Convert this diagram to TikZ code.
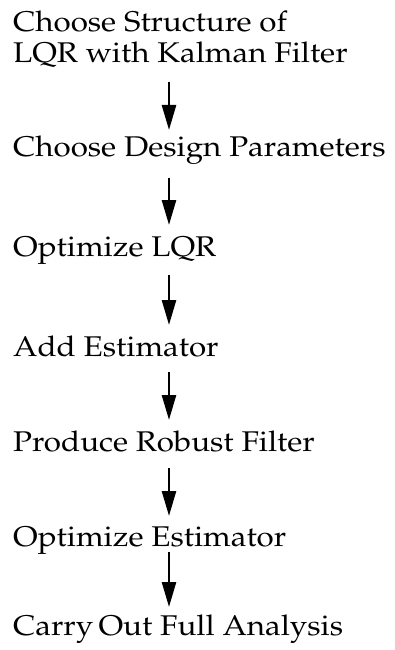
\documentclass[tikz,border=0pt]{standalone}
\usepackage[T1]{fontenc}
\usepackage{mathpazo}
\usepackage{graphicx}
\usetikzlibrary{arrows.meta}
% slightly widened Palatino lines
\newcommand{\wideline}[1]{\scalebox{1.10}[1]{#1}}
\begin{document}
\begin{tikzpicture}[x=1pt,y=-1pt,
  stepbox/.style={anchor=base west,inner sep=0pt,align=left,
    font=\fontsize{28.5}{31}\selectfont},
  flow/.style={line width=2.6pt,-{Triangle[length=25pt,width=14pt]}}]
\useasboundingbox (0,0) rectangle (394,650);
% steps (base anchor of the two-line box is its last line)
\node[stepbox] (s1) at (13,63) {\wideline{Choose Structure of}\\\wideline{LQR with Kalman Filter}};
\node[stepbox] (s2) at (13,156) {\wideline{Choose Design Parameters}};
\node[stepbox] (s3) at (13,256) {\wideline{Optimize LQR}};
\node[stepbox] (s4) at (13,356) {\wideline{Add Estimator}};
\node[stepbox] (s5) at (13,451) {\wideline{Produce Robust Filter}};
\node[stepbox] (s6) at (13,546) {\wideline{Optimize Estimator}};
\node[stepbox] (s7) at (13,635) {\wideline{Carry\,Out Full Analysis}};
% arrows between consecutive steps
\coordinate (ax) at (169,0);
\draw[flow] ([yshift=-19pt]s1.base -| ax) -- ([yshift=26pt]s2.base -| ax);
\draw[flow] ([yshift=-22pt]s2.base -| ax) -- ([yshift=31pt]s3.base -| ax);
\draw[flow] ([yshift=-19pt]s3.base -| ax) -- ([yshift=31pt]s4.base -| ax);
\draw[flow] ([yshift=-16pt]s4.base -| ax) -- ([yshift=31pt]s5.base -| ax);
\draw[flow] ([yshift=-17pt]s5.base -| ax) -- ([yshift=30pt]s6.base -| ax);
\draw[flow] ([yshift=-6pt]s6.base -| ax) -- ([yshift=28pt]s7.base -| ax);
\end{tikzpicture}
\end{document}
